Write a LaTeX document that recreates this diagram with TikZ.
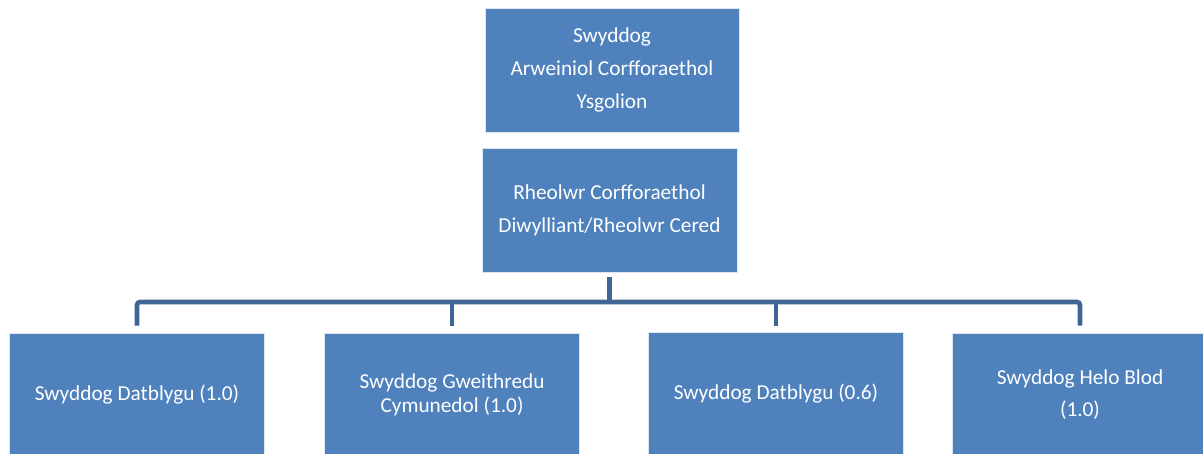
\documentclass[tikz,border=0pt]{standalone}
\usepackage{fontspec}
\setmainfont{Carlito}
\usepackage{xcolor}
\usetikzlibrary{positioning,calc}

\definecolor{boxblue}{HTML}{4F81BD}
\definecolor{linkblue}{HTML}{3E6594}

\tikzset{
    orgbox/.style={fill=boxblue, draw=white!80!boxblue, line width=0.6pt, text=white,
        minimum width=255pt, minimum height=124pt, inner sep=0pt, align=center,
        font=\fontsize{21.3}{32.8}\selectfont},
    link/.style={linkblue, line width=4.6pt}
}

\begin{document}
\begin{tikzpicture}[x=1pt, y=-1pt]
    \useasboundingbox (0,0) rectangle (1203,454);

    % Top of the tree
    \node[orgbox, minimum width=254pt] (lead) at (612,70) {Swyddog\\Arweiniol Corfforaethol\\Ysgolion};
    \node[orgbox] (mgr) at (609.5,210) {Rheolwr Corfforaethol\\Diwylliant/Rheolwr Cered};

    % Bottom row
    \node[orgbox, minimum height=123pt] (dev1) at (137,394.5) {Swyddog Datblygu (1.0)};
    \node[orgbox, minimum height=123pt] (comm) at (452,394.5) {Swyddog Gweithredu\\[-8.5pt]Cymunedol (1.0)};
    \node[orgbox, minimum height=123pt] (dev2) at (776,393.5) {Swyddog Datblygu (0.6)};
    \node[orgbox, minimum height=123pt] (help) at (1080,394.5) {Swyddog Helo Blod\\(1.0)};

    % Connectors
    \coordinate (bar) at (609,302);
    \draw[link] ([yshift=-5pt]mgr.south) -- (mgr.south |- bar);
    \draw[link, rounded corners=3pt] ([yshift=7pt]dev1.north) -- (dev1.north |- bar)
        -- (help.north |- bar) -- ([yshift=7pt]help.north);
    \draw[link] (comm.north |- bar) -- ([yshift=7pt]comm.north);
    \draw[link] (dev2.north |- bar) -- ([yshift=6pt]dev2.north);
\end{tikzpicture}
\end{document}
